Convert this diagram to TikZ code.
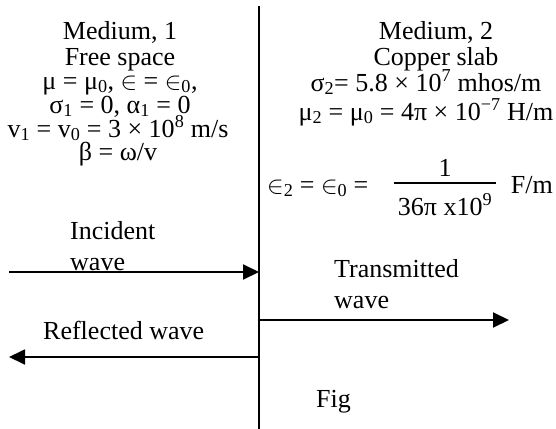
\documentclass[tikz,border=0pt]{standalone}
\usepackage{fontspec}
\setmainfont{Liberation Serif}
\usetikzlibrary{arrows.meta}
\newcommand{\elm}{\ensuremath{\in}}
\begin{document}
\begin{tikzpicture}[x=1pt,y=-1pt,
  txt/.style={inner sep=0pt,anchor=base,font=\fontsize{26}{26}\selectfont},
  txtl/.style={txt,anchor=base west},
  txtr/.style={txt,anchor=base east},
  wavearrow/.style={line width=2pt,-{Triangle[length=16pt,width=15pt]}},
  boundary/.style={line width=2pt}]
\useasboundingbox (0,0) rectangle (556,428);
% boundary
\coordinate (btop) at (259,6);
\coordinate (bbot) at (259,430);
\draw[boundary] (btop) -- (bbot);
% medium 1
\node[txt] (m1a) at (120,40) {Medium, 1};
\node[txt] (m1b) at (120,65) {Free space};
\node[txt] (m1c) at (120,89) {μ = μ\textsubscript{0}, \elm{} = \elm\textsubscript{0},};
\node[txt] (m1d) at (120,113) {σ\textsubscript{1} = 0, α\textsubscript{1} = 0};
\node[txt] (m1e) at (118,137) {v\textsubscript{1} = v\textsubscript{0} = 3 × 10\textsuperscript{8} m/s};
\node[txt] (m1f) at (118,160) {β = ω/v};
% medium 2
\node[txt] (m2a) at (436,40) {Medium, 2};
\node[txt] (m2b) at (436,65) {Copper slab};
\node[txt] (m2c) at (426,91) {σ\textsubscript{2}= 5.8 × 10\textsuperscript{7} mhos/m};
\node[txt] (m2d) at (426,120) {μ\textsubscript{2} = μ\textsubscript{0} = 4π × 10\textsuperscript{−7} H/m};
\node[txtl] (m2e) at (267,193) {\elm\textsubscript{2} = \elm\textsubscript{0} =};
\node[txt] (num) at (445,176) {1};
\node[txt] (den) at (445,215) {36π x10\textsuperscript{9}};
\coordinate (barl) at (394,183);
\coordinate (barr) at (496,183);
\draw[line width=1.2pt] (barl) -- (barr);
\node[txtr] (fm) at (553,193) {F/m};
% waves
\coordinate (incs) at (9,272);
\coordinate (ince) at (259,272);
\draw[wavearrow] (incs) -- (ince);
\node[txtl] (inc1) at (70,239) {Incident};
\node[txtl] (inc2) at (70,270) {wave};
\coordinate (trs) at (259,320);
\coordinate (tre) at (509,320);
\draw[wavearrow] (trs) -- (tre);
\node[txtl] (tr1) at (334,277) {Transmitted};
\node[txtl] (tr2) at (334,308) {wave};
\coordinate (rfs) at (259,357);
\coordinate (rfe) at (9,357);
\draw[wavearrow,line width=1.8pt] (rfs) -- (rfe);
\node[txtl] (rf) at (43,339) {Reflected wave};
\node[txtl] (fig) at (316,407) {Fig};
\end{tikzpicture}
\end{document}
